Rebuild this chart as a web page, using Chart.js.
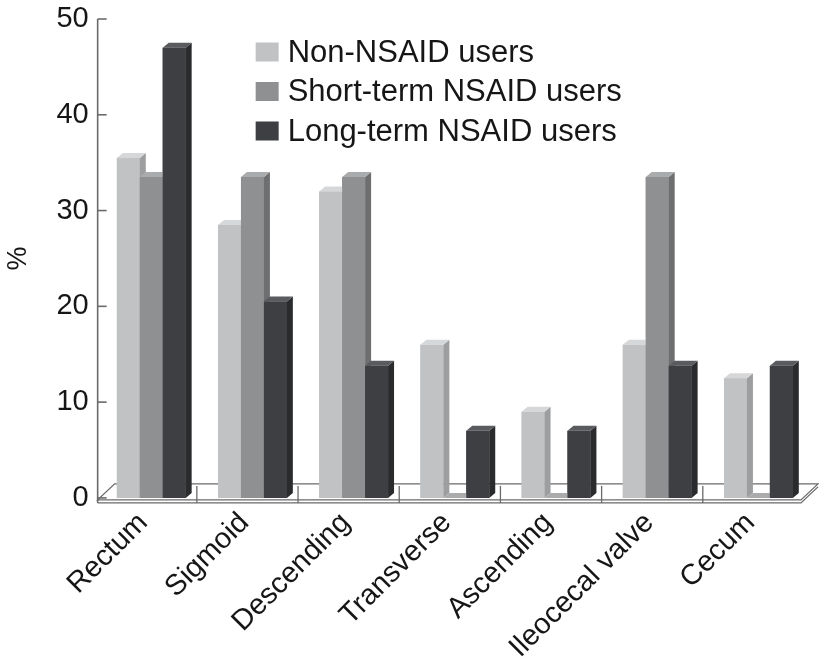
<!DOCTYPE html>
<html>
<head>
<meta charset="utf-8">
<script src="https://cdn.jsdelivr.net/npm/chart.js@4.4.1/dist/chart.umd.min.js"></script>
<style>
  html, body { margin: 0; padding: 0; background: #ffffff; }
  #wrap { width: 819px; height: 665px; position: relative; }
</style>
</head>
<body>
<div id="wrap"><canvas id="c" width="819" height="665"></canvas></div>
<script>
// ---- data ----
const categories = ['Rectum', 'Sigmoid', 'Descending', 'Transverse', 'Ascending', 'Ileocecal valve', 'Cecum'];
const seriesLabels = ['Non-NSAID users', 'Short-term NSAID users', 'Long-term NSAID users'];
const nonNsaid = [35.5, 28.5, 32, 16, 9, 16, 12.5];
const shortTerm = [33.5, 33.5, 33.5, 0, 0, 33.5, 0];
const longTerm = [47, 20.5, 13.8, 7, 7, 13.8, 13.8];
const yTickValues = [0, 10, 20, 30, 40, 50];

// ---- styles ----
const frontColors = ['#c0c2c4', '#8e9092', '#3e3f42'];
const sideColors = ['#9c9ea0', '#6c6e70', '#2a2b2d'];
const topColors = ['#d6d7d9', '#a9abad', '#5a5b5e'];
const FONT = '"Liberation Sans", Arial, Helvetica, sans-serif';
const TEXT = '#161616';
const LINE = '#6a6a6a';

const DEPTH_X = 6, DEPTH_Y = 5;

// Redraws every bar (positions taken from Chart.js bar elements) left-to-right
// within each group so the 3D side/top faces overlap correctly.
const threeD = {
  id: 'threeD',
  afterDatasetsDraw(chart) {
    const ctx = chart.ctx;
    const metas = chart.data.datasets.map((d, i) => chart.getDatasetMeta(i));
    ctx.save();
    for (let j = 0; j < categories.length; j++) {
      metas.forEach((meta, i) => {
        const el = meta.data[j];
        if (!el) return;
        const p = el.getProps(['x', 'y', 'base', 'width'], true);
        const l = p.x - p.width / 2, r = p.x + p.width / 2;
        const top = Math.min(p.y, p.base), bot = p.base;
        // front
        ctx.fillStyle = frontColors[i];
        ctx.fillRect(l, top, r - l, bot - top);
        // side face
        ctx.fillStyle = sideColors[i];
        ctx.beginPath();
        ctx.moveTo(r, top);
        ctx.lineTo(r + DEPTH_X, top - DEPTH_Y);
        ctx.lineTo(r + DEPTH_X, bot - DEPTH_Y);
        ctx.lineTo(r, bot);
        ctx.closePath();
        ctx.fill();
        // top face
        ctx.fillStyle = topColors[i];
        ctx.beginPath();
        ctx.moveTo(l, top);
        ctx.lineTo(l + DEPTH_X, top - DEPTH_Y);
        ctx.lineTo(r + DEPTH_X, top - DEPTH_Y);
        ctx.lineTo(r, top);
        ctx.closePath();
        ctx.fill();
      });
    }
    ctx.restore();
  }
};

const frame = {
  id: 'frame',
  beforeDatasetsDraw(chart) {
    const ctx = chart.ctx;
    const xs = chart.scales.x, ys = chart.scales.y;
    const y0 = ys.getPixelForValue(0);
    const left = chart.chartArea.left - 3, right = chart.chartArea.right - 8;
    const front = y0 + 2, back = y0 - 14;
    ctx.save();
    ctx.strokeStyle = LINE;
    ctx.lineWidth = 1.3;
    // floor slab
    ctx.beginPath();
    ctx.moveTo(left, front);
    ctx.lineTo(right, front);
    ctx.lineTo(right + 17, back);
    ctx.lineTo(left + 17, back);
    ctx.closePath();
    ctx.stroke();
    ctx.beginPath();
    ctx.moveTo(left, front + 3);
    ctx.lineTo(right, front + 3);
    ctx.lineTo(right + 17, back + 3);
    ctx.stroke();
    // category dividers on the floor
    const step = xs.getPixelForTick(1) - xs.getPixelForTick(0);
    for (let k = 1; k < categories.length; k++) {
      const xb = xs.getPixelForTick(k) - step / 2 - 5;
      ctx.beginPath();
      ctx.moveTo(xb, front + 3);
      ctx.lineTo(xb, back + 2);
      ctx.stroke();
    }
    // y axis line
    ctx.lineWidth = 1.6;
    ctx.beginPath();
    ctx.moveTo(left, ys.getPixelForValue(50));
    ctx.lineTo(left, front + 3);
    ctx.stroke();
    // y ticks (pointing into the back wall)
    ys.ticks.forEach(t => {
      const ty = ys.getPixelForValue(t.value);
      ctx.beginPath();
      ctx.moveTo(left, ty);
      ctx.lineTo(left + 9, ty);
      ctx.stroke();
    });
    ctx.restore();
  }
};

const boxLegend = {
  id: 'boxLegend',
  afterDraw(chart) {
    const ctx = chart.ctx;
    const x0 = chart.chartArea.left + 155;
    const y0 = 52;
    ctx.save();
    ctx.font = '31px ' + FONT;
    ctx.textBaseline = 'middle';
    chart.data.datasets.forEach((ds, k) => {
      const cy = y0 + k * 39.5;
      ctx.fillStyle = frontColors[k];
      ctx.fillRect(x0, cy - 9.5, 23, 19);
      ctx.fillStyle = TEXT;
      ctx.fillText(ds.label, x0 + 32, cy + 1);
    });
    ctx.restore();
  }
};

new Chart(document.getElementById('c'), {
  type: 'bar',
  data: {
    labels: categories,
    datasets: [
      { label: seriesLabels[0], data: nonNsaid, backgroundColor: frontColors[0] },
      { label: seriesLabels[1], data: shortTerm, backgroundColor: frontColors[1] },
      { label: seriesLabels[2], data: longTerm, backgroundColor: frontColors[2] }
    ]
  },
  options: {
    responsive: false,
    animation: false,
    devicePixelRatio: 1,
    layout: { padding: { top: 19, right: 10, bottom: 0, left: 2 } },
    datasets: { bar: { categoryPercentage: 0.68, barPercentage: 1.0, borderWidth: 0 } },
    plugins: {
      legend: { display: false },
      tooltip: { enabled: false }
    },
    scales: {
      x: {
        grid: { display: false },
        border: { display: false },
        ticks: {
          color: TEXT,
          font: { family: FONT, size: 29 },
          maxRotation: 45,
          minRotation: 45,
          padding: 0,
          labelOffset: -8
        }
      },
      y: {
        min: 0,
        max: 50,
        afterBuildTicks(scale) { scale.ticks = yTickValues.map(v => ({ value: v })); },
        afterFit(scale) { scale.paddingTop = 0; scale.paddingBottom = 0; },
        grid: { display: false, drawTicks: false },
        border: { display: false },
        ticks: {
          color: TEXT,
          font: { family: FONT, size: 29 },
          padding: 12
        },
        title: {
          display: true,
          text: '%',
          color: TEXT,
          font: { family: FONT, size: 27 },
          padding: { top: 0, bottom: 10 }
        }
      }
    }
  },
  plugins: [frame, threeD, boxLegend]
});
</script>
</body>
</html>
